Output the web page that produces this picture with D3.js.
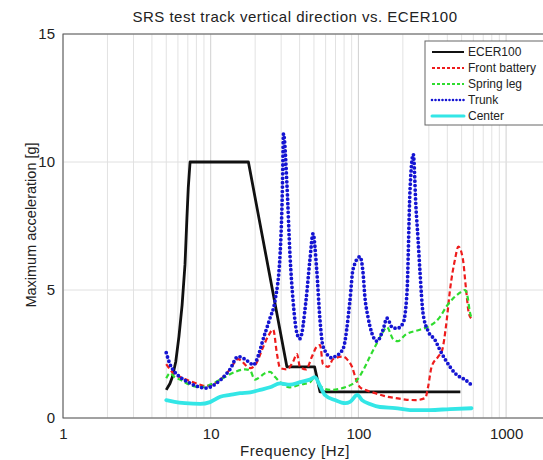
<!DOCTYPE html>
<html>
<head>
<meta charset="utf-8">
<script src="https://cdn.jsdelivr.net/npm/d3@7"></script>
<style>
  html, body { margin: 0; padding: 0; background: #fff; overflow: hidden; }
  text { font-family: "Liberation Sans", Arial, sans-serif; fill: #222; }
</style>
</head>
<body>
<svg id="chart" width="543" height="460"></svg>
<script>
// ---- data ----
const title = "SRS test track vertical direction vs. ECER100";
const xLabel = "Frequency [Hz]";
const yLabel = "Maximum acceleration [g]";
const xTicks = [1, 10, 100, 1000];
const yTicks = [0, 5, 10, 15];
const seriesNames = ["ECER100", "Front battery", "Spring leg", "Trunk", "Center"];

const ecerFreq = [5, 5.3, 5.5, 5.8, 6.1, 6.4, 6.7, 6.9, 7.05, 7.25, 18, 32.8, 50.5, 55, 490];
const ecerVal  = [1.1, 1.35, 1.6, 2.2, 3.2, 4.4, 6.0, 7.8, 9.0, 10, 10, 2, 2, 1.02, 1.02];

const batteryFreq = [5, 5.7, 6.2, 7.2, 8.5, 9.2, 10.2, 11.6, 13.5, 15.3, 18.5, 20.2, 22.2, 24.5, 26.5, 28.1, 29.5, 32.9, 36.1, 38.4, 40.2, 44.2, 48.5, 52.4, 55, 57.6, 62.5, 67.4, 78.7, 85, 90.5, 96.6, 102.5, 110.8, 130, 152, 178, 208, 243, 284, 296, 313, 347, 369, 394, 417, 451, 475, 510, 534, 559, 579];
const batteryVal  = [2.1, 1.7, 1.6, 1.45, 1.3, 1.25, 1.3, 1.5, 1.9, 2.3, 1.95, 2.1, 2.65, 3.2, 3.45, 2.5, 1.95, 1.9, 2.2, 2.5, 2.0, 1.9, 2.4, 2.8, 2.85, 2.1, 2.0, 2.3, 2.4, 2.25, 2.0, 1.5, 1.2, 1.1, 0.97, 0.85, 0.78, 0.72, 0.7, 0.78, 1.2, 2.0, 2.4, 2.65, 3.7, 5.0, 6.2, 6.7, 6.2, 5.1, 4.1, 3.9];

const springFreq = [5, 5.3, 5.7, 6.2, 7.2, 8.5, 9.4, 11.6, 14.6, 17.1, 18.5, 19.9, 20.9, 23.3, 25.2, 27.3, 29.5, 34.4, 40.2, 47, 50.7, 55, 64.3, 81.3, 98.4, 110.8, 119.6, 130, 144.6, 156.2, 171, 184.7, 207.6, 261, 304, 357, 394, 434, 475, 527, 550, 566, 583];
const springVal  = [1.55, 1.75, 1.6, 1.5, 1.3, 1.2, 1.25, 1.5, 1.8, 1.9, 1.85, 1.5, 1.55, 1.75, 1.8, 1.6, 1.4, 1.2, 1.3, 1.4, 1.6, 1.25, 1.1, 1.2, 1.5, 2.0, 2.4, 2.8, 3.3, 3.55, 3.1, 3.0, 3.25, 3.45, 3.6, 3.95, 4.35, 4.65, 4.85, 5.0, 4.7, 4.2, 3.9];

const trunkFreq = [5, 5.3, 5.7, 6.2, 7.2, 8.5, 9.2, 11.6, 13.5, 15.3, 18.5, 19.3, 23.3, 25.2, 27.3, 29.5, 30.6, 31.1, 32.9, 34.4, 36.1, 38.4, 40.2, 44.2, 47, 49.3, 52.2, 55, 57.6, 66.3, 69.4, 78.7, 87.7, 91.9, 102.5, 107.4, 110.8, 116.1, 123.6, 133.7, 146.8, 156.2, 168.9, 182.5, 200.5, 213.3, 223.6, 235.3, 245.5, 253.3, 261.3, 273.8, 296, 330, 357, 386, 417, 451, 487, 527, 579];
const trunkVal  = [2.55, 2.1, 1.8, 1.6, 1.37, 1.2, 1.17, 1.48, 1.9, 2.4, 2.15, 2.07, 3.3, 3.9, 4.6, 6.4, 9.0, 11.1, 9.0, 6.4, 4.6, 3.3, 3.1, 4.6, 6.2, 7.2, 5.8, 3.8, 2.8, 2.35, 2.4, 2.7, 4.6, 5.8, 6.3, 5.7, 4.7, 3.95, 3.3, 3.0, 3.45, 3.9, 3.55, 3.5, 3.7, 4.9, 8.9, 10.3, 8.2, 7.0, 5.7, 4.1, 3.4, 3.05, 2.65, 2.3, 2.0, 1.75, 1.6, 1.5, 1.3];

const centerFreq = [5, 5.7, 6.7, 8.5, 9.9, 11.6, 13.5, 15.8, 18.5, 21.6, 25.2, 29.5, 34.4, 40.2, 47, 50.7, 55, 59.3, 69.4, 81.3, 87.7, 98.4, 105.8, 119.6, 140, 177.5, 223.6, 304, 417, 583];
const centerVal  = [0.7, 0.63, 0.58, 0.55, 0.62, 0.83, 0.9, 0.97, 1.0, 1.1, 1.2, 1.35, 1.3, 1.4, 1.5, 1.6, 1.25, 0.9, 0.7, 0.58, 0.63, 0.9, 0.7, 0.55, 0.43, 0.39, 0.31, 0.31, 0.35, 0.38];

// ---- layout ----
(function draw() {
  const svg = d3.select("#chart");
  const pL = 63, pT = 34, pB = 418, decade = 147.7;
  const xMax = 2000;
  const x = d3.scaleLog().domain([1, xMax]).range([pL, pL + decade * Math.log10(xMax)]);
  const y = d3.scaleLinear().domain([0, 15]).range([pB, pT]);
  const pR = x(xMax);
  const font = "Liberation Sans, Arial, sans-serif";

  svg.append("rect").attr("x", pL).attr("y", pT).attr("width", pR - pL).attr("height", pB - pT).attr("fill", "#fff");

  // grid
  const grid = svg.append("g");
  const minor = [];
  for (let d = 1; d <= 1000; d *= 10) for (let k = 2; k <= 9; k++) if (d * k < xMax) minor.push(d * k);
  grid.selectAll(".minor").data(minor).enter().append("line")
    .attr("x1", d => x(d)).attr("x2", d => x(d)).attr("y1", pT).attr("y2", pB)
    .attr("stroke", "#e2e2e2").attr("stroke-width", 1);
  grid.selectAll(".major").data(xTicks).enter().append("line")
    .attr("x1", d => x(d)).attr("x2", d => x(d)).attr("y1", pT).attr("y2", pB)
    .attr("stroke", "#d0d0d0").attr("stroke-width", 1);
  grid.selectAll(".ymaj").data(yTicks).enter().append("line")
    .attr("x1", pL).attr("x2", pR).attr("y1", d => y(d)).attr("y2", d => y(d))
    .attr("stroke", "#e0e0e0").attr("stroke-width", 1);

  // frame
  svg.append("rect").attr("x", pL).attr("y", pT).attr("width", pR - pL).attr("height", pB - pT)
    .attr("fill", "none").attr("stroke", "#555").attr("stroke-width", 1);

  const xAxis = d3.axisBottom(x).tickValues(xTicks).tickFormat(d3.format("d")).tickSize(0).tickPadding(10);
  const gx = svg.append("g").attr("transform", `translate(0,${pB})`).call(xAxis);
  gx.select(".domain").remove();
  gx.selectAll("text").attr("font-size", 15).attr("fill", "#222").style("font-family", font);

  const yAxis = d3.axisLeft(y).tickValues(yTicks).tickSize(0).tickPadding(8);
  const gy = svg.append("g").attr("transform", `translate(${pL},0)`).call(yAxis);
  gy.select(".domain").remove();
  gy.selectAll("text").attr("font-size", 15).attr("fill", "#222").style("font-family", font);

  // series
  const lineCurved = d3.line().x(d => x(d[0])).y(d => y(d[1])).curve(d3.curveMonotoneX);
  const lineStraight = d3.line().x(d => x(d[0])).y(d => y(d[1]));
  const zip = (a, b) => a.map((f, i) => [f, b[i]]);
  const styles = [
    { data: zip(ecerFreq, ecerVal), color: "#111", width: 2.8, dash: null, cap: "butt", gen: lineStraight },
    { data: zip(batteryFreq, batteryVal), color: "#ee1c1c", width: 2.2, dash: "5,3", cap: "butt", gen: lineCurved },
    { data: zip(springFreq, springVal), color: "#2fdc2f", width: 2.2, dash: "5,3", cap: "butt", gen: lineCurved },
    { data: zip(trunkFreq, trunkVal), color: "#1414d2", width: 3.8, dash: "0,4.4", cap: "round", gen: lineCurved },
    { data: zip(centerFreq, centerVal), color: "#33e6e6", width: 3.8, dash: null, cap: "round", gen: lineCurved }
  ];
  const plot = svg.append("g");
  styles.forEach(s => {
    plot.append("path").datum(s.data).attr("d", s.gen)
      .attr("fill", "none").attr("stroke", s.color).attr("stroke-width", s.width)
      .attr("stroke-linecap", s.cap).attr("stroke-linejoin", "round")
      .attr("stroke-dasharray", s.dash);
  });

  // legend
  const lg = svg.append("g");
  lg.append("rect").attr("x", 425).attr("y", 41).attr("width", 140).attr("height", 84)
    .attr("fill", "#fff").attr("stroke", "#666").attr("stroke-width", 1);
  seriesNames.forEach((n, i) => {
    const s = styles[i];
    const yy = 52 + i * 16;
    lg.append("line").attr("x1", 432).attr("x2", 464).attr("y1", yy).attr("y2", yy)
      .attr("stroke", s.color).attr("stroke-width", i === 3 ? 2.6 : (i === 4 ? 3 : 2))
      .attr("stroke-linecap", s.cap).attr("stroke-dasharray", i === 3 ? "0,3.5" : (i === 1 || i === 2 ? "3,2" : null));
    lg.append("text").attr("x", 468).attr("y", yy).attr("dy", "0.35em").attr("font-size", 12).text(n);
  });

  svg.append("text").attr("x", 295).attr("y", 22).attr("text-anchor", "middle").attr("font-size", 15)
    .attr("letter-spacing", 0.5).text(title);
  svg.append("text").attr("x", 295).attr("y", 456).attr("text-anchor", "middle").attr("font-size", 15)
    .attr("letter-spacing", 0.6).text(xLabel);
  svg.append("text").attr("transform", "translate(36,225) rotate(-90)").attr("text-anchor", "middle").attr("font-size", 14.5)
    .text(yLabel);
})();
</script>
</body>
</html>
